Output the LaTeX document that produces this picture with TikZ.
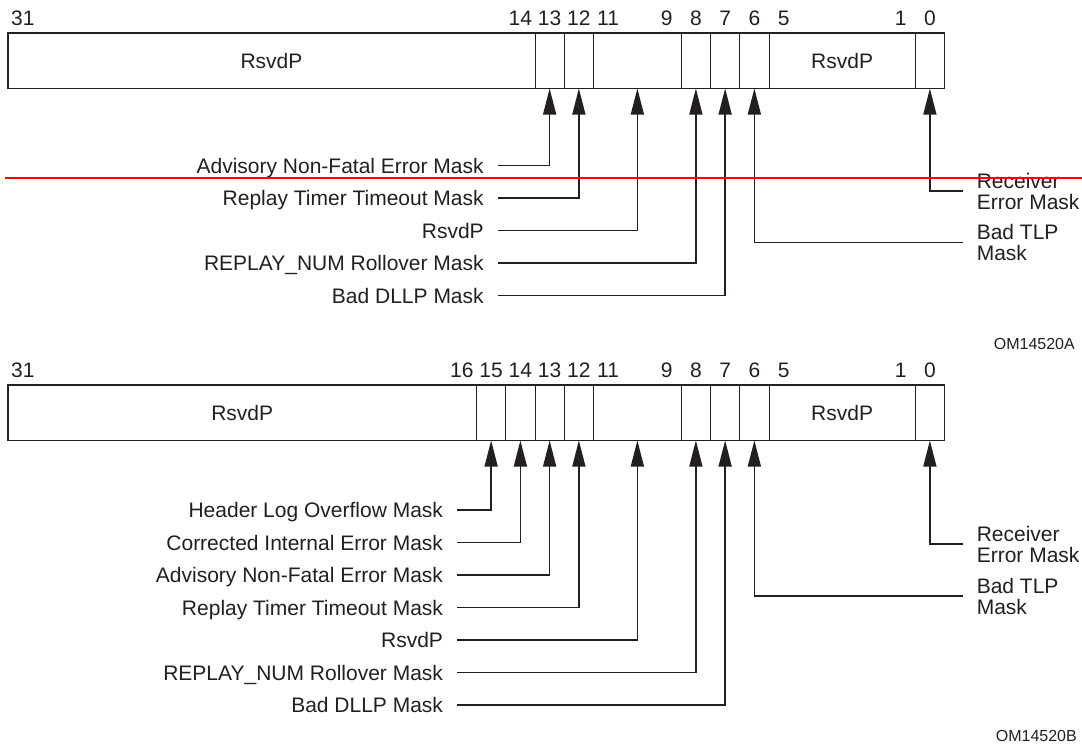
\documentclass[tikz,border=0pt]{standalone}
\usepackage{fontspec}
\setmainfont{Liberation Sans}
\usetikzlibrary{arrows.meta}
\definecolor{ink}{RGB}{35,31,32}
\def\bw{29.25}
\begin{document}
\begin{tikzpicture}[x=1pt,y=-1pt,
  every node/.style={font=\fontsize{21}{21}\selectfont, text=ink},
  field/.style={draw=ink, line width=0.9pt, minimum height=55.5pt, inner sep=0pt, outer sep=0pt, anchor=north west},
  bitnum/.style={anchor=base, inner sep=0pt},
  llbl/.style={anchor=east, inner xsep=14pt, inner ysep=0pt, text height=15pt, text depth=0pt, outer sep=0pt},
  rlbl/.style={anchor=west, align=left, inner xsep=13.5pt, inner ysep=0pt, outer sep=0pt},
  conn/.style={draw=ink, line width=1.4pt, -{Triangle[length=26pt,width=13pt]}},
  frame/.style={draw=ink, line width=1.6pt},
  figid/.style={anchor=base east, inner sep=0pt, font=\fontsize{16}{16}\selectfont}
]
\useasboundingbox (0,0) rectangle (1082,747);

% ---------------- Top register ----------------
\node[field, minimum width=527pt] (t31) at (8,33) {RsvdP};
\node[field, minimum width=\bw pt] (t13) at (535,33) {};
\node[field, minimum width=\bw pt] (t12) at (564.25,33) {};
\node[field, minimum width={3*\bw pt}] (t11) at (593.5,33) {};
\node[field, minimum width=\bw pt] (t8) at (681.25,33) {};
\node[field, minimum width=\bw pt] (t7) at (710.5,33) {};
\node[field, minimum width=\bw pt] (t6) at (739.75,33) {};
\node[field, minimum width={5*\bw pt}] (t5) at (769,33) {RsvdP};
\node[field, minimum width=\bw pt] (t0) at (915.25,33) {};
\draw[frame] (8,33) rectangle (944.5,88.5);

\node[anchor=base west, inner sep=0pt] (tn31) at (11,25) {31};
\foreach \k in {14,13,12,11,9,8,7,6,5,1,0}
  \node[bitnum] (tn\k) at ({944.5-(\k+0.5)*\bw},25) {\k};

\node[llbl] (ta) at (497.7,165.5) {Advisory Non-Fatal Error Mask};
\node[llbl] (tb) at (497.7,198) {Replay Timer Timeout Mask};
\node[llbl] (tc) at (497.7,230.5) {RsvdP};
\node[llbl] (td) at (497.7,263) {REPLAY\_NUM Rollover Mask};
\node[llbl] (te) at (497.7,295.5) {Bad DLLP Mask};
\node[rlbl] (tr) at (963.3,191) {Receiver\\Error Mask};
\node[rlbl] (ts) at (963.3,242.5) {Bad TLP\\Mask};

\draw[conn] (ta.east) -| (t13.south);
\draw[conn] (tb.east) -| (t12.south);
\draw[conn] (tc.east) -| (t11.south);
\draw[conn] (td.east) -| (t8.south);
\draw[conn] (te.east) -| (t7.south);
\draw[conn] (tr.west) -| (t0.south);
\draw[conn] (ts.west) -| (t6.south);

\node[figid] (fa) at (1075,349) {OM14520A};

% ---------------- Bottom register ----------------
\node[field, minimum width=468.5pt] (b31) at (8,385) {RsvdP};
\node[field, minimum width=\bw pt] (b15) at (476.5,385) {};
\node[field, minimum width=\bw pt] (b14) at (505.75,385) {};
\node[field, minimum width=\bw pt] (b13) at (535,385) {};
\node[field, minimum width=\bw pt] (b12) at (564.25,385) {};
\node[field, minimum width={3*\bw pt}] (b11) at (593.5,385) {};
\node[field, minimum width=\bw pt] (b8) at (681.25,385) {};
\node[field, minimum width=\bw pt] (b7) at (710.5,385) {};
\node[field, minimum width=\bw pt] (b6) at (739.75,385) {};
\node[field, minimum width={5*\bw pt}] (b5) at (769,385) {RsvdP};
\node[field, minimum width=\bw pt] (b0) at (915.25,385) {};
\draw[frame] (8,385) rectangle (944.5,440.5);

\node[anchor=base west, inner sep=0pt] (bn31) at (11,377) {31};
\foreach \k in {16,15,14,13,12,11,9,8,7,6,5,1,0}
  \node[bitnum] (bn\k) at ({944.5-(\k+0.5)*\bw},377) {\k};

\node[llbl] (ba) at (457,510) {Header Log Overflow Mask};
\node[llbl] (bb) at (457,542.5) {Corrected Internal Error Mask};
\node[llbl] (bc) at (457,575) {Advisory Non-Fatal Error Mask};
\node[llbl] (bd) at (457,607.5) {Replay Timer Timeout Mask};
\node[llbl] (be) at (457,640) {RsvdP};
\node[llbl] (bf) at (457,672.5) {REPLAY\_NUM Rollover Mask};
\node[llbl] (bg) at (457,705) {Bad DLLP Mask};
\node[rlbl] (br) at (963.3,544) {Receiver\\Error Mask};
\node[rlbl] (bs) at (963.3,596) {Bad TLP\\Mask};

\draw[conn] (ba.east) -| (b15.south);
\draw[conn] (bb.east) -| (b14.south);
\draw[conn] (bc.east) -| (b13.south);
\draw[conn] (bd.east) -| (b12.south);
\draw[conn] (be.east) -| (b11.south);
\draw[conn] (bf.east) -| (b8.south);
\draw[conn] (bg.east) -| (b7.south);
\draw[conn] (br.west) -| (b0.south);
\draw[conn] (bs.west) -| (b6.south);

\node[figid] (fb) at (1077,741) {OM14520B};

% red line across the picture
\coordinate (rl1) at (5,178);
\coordinate (rl2) at (1082,178);
\draw[red, line width=1.6pt] (rl1) -- (rl2);
\end{tikzpicture}
\end{document}
